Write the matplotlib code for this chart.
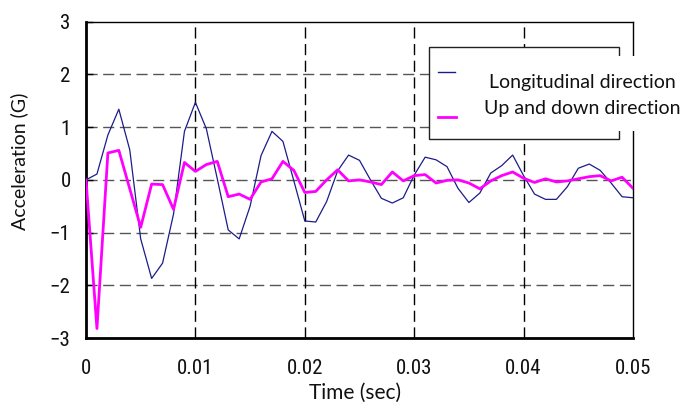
import os
import numpy as np
import matplotlib
matplotlib.use("Agg")
import matplotlib.pyplot as plt
from matplotlib import font_manager
from matplotlib.font_manager import FontProperties
from matplotlib.patches import Rectangle
from matplotlib.lines import Line2D

# Sampled acceleration records, 1 ms step
time_sec = [i * 0.001 for i in range(51)]
longitudinal = [
    0.00, 0.11, 0.85, 1.34, 0.57, -1.12, -1.87, -1.58, -0.65, 0.92,
    1.47, 0.97, 0.02, -0.95, -1.12, -0.50, 0.46, 0.92, 0.73, -0.02,
    -0.78, -0.80, -0.41, 0.17, 0.47, 0.37, 0.00, -0.35, -0.44, -0.34,
    0.09, 0.43, 0.38, 0.25, -0.16, -0.43, -0.25, 0.13, 0.27, 0.47,
    0.08, -0.27, -0.37, -0.37, -0.13, 0.22, 0.30, 0.18, -0.06, -0.32,
    -0.34,
]
up_down = [
    0.00, -2.82, 0.51, 0.56, -0.17, -0.90, -0.08, -0.09, -0.56, 0.33,
    0.16, 0.29, 0.35, -0.32, -0.27, -0.37, -0.04, 0.02, 0.35, 0.18,
    -0.24, -0.22, 0.00, 0.19, -0.02, 0.00, -0.04, -0.09, 0.15, -0.02,
    0.08, 0.10, -0.06, -0.01, 0.00, -0.06, -0.17, -0.02, 0.08, 0.15,
    0.03, -0.05, 0.02, -0.04, -0.02, 0.02, 0.06, 0.08, -0.02, 0.05,
    -0.16,
]
x_ticks = [0, 0.01, 0.02, 0.03, 0.04, 0.05]
x_tick_labels = ["0", "0.01", "0.02", "0.03", "0.04", "0.05"]
y_ticks = [-3, -2, -1, 0, 1, 2, 3]
series_names = ["Longitudinal direction", "Up and down direction"]
x_title = "Time (sec)"
y_title = "Acceleration (G)"


def narrow_font():
    """Return properties of a condensed sans face if one is installed."""
    prefs = ["liberationsansnarrow-regular", "robotocondensed-regular",
             "notosans-condensed.", "notosans-condensed-regular",
             "opensans-condensed", "dejavusanscondensed."]
    files = {os.path.basename(f.fname).lower(): f.fname
             for f in font_manager.fontManager.ttflist}
    for p in prefs:
        for base, path in files.items():
            if base.startswith(p) and "bold" not in base and "italic" not in base:
                return FontProperties(fname=path)
    for f in font_manager.fontManager.ttflist:
        if (f.stretch in ("condensed", "semi-condensed")
                and f.style == "normal" and f.weight in (400, "normal")):
            return FontProperties(fname=f.fname)
    return FontProperties(family="Liberation Sans")


def pick_font(names):
    for name in names:
        try:
            font_manager.findfont(name, fallback_to_default=False)
            return name
        except Exception:
            continue
    return "DejaVu Sans"


tick_fp = narrow_font()
tick_fp.set_size(15)
label_font = pick_font(["Lato", "Open Sans"])

W, H = 682, 403
fig = plt.figure(figsize=(W / 100, H / 100), dpi=100)


def fx(px):
    return px / W


def fy(py):
    return 1 - py / H


ax = fig.add_axes([fx(86), fy(338), fx(633) - fx(86), fy(21.7) - fy(338)])

navy = "#1c1c8a"
magenta = "#ff00ff"

ax.plot(time_sec, longitudinal, color=navy, lw=0.9, zorder=3)
ax.plot(time_sec, up_down, color=magenta, lw=2.0, zorder=4)

ax.set_xlim(0, 0.05)
ax.set_ylim(-3, 3)
ax.set_xticks(x_ticks)
ax.set_xticklabels(x_tick_labels)
ax.set_yticks(y_ticks)

for lab in ax.get_xticklabels() + ax.get_yticklabels():
    lab.set_fontproperties(tick_fp)
    lab.set_color("#111111")

ax.tick_params(axis="x", direction="in", length=0, pad=15)
ax.tick_params(axis="y", direction="in", length=5, width=1, pad=11)

# dashed grid: horizontal grey, vertical black
for yv in y_ticks[1:-1]:
    ax.axhline(yv, color="#555555", lw=1.0, ls=(0, (8, 4)), zorder=1)
for xv in x_ticks[1:-1]:
    ax.axvline(xv, color="#000000", lw=1.0, ls=(0, (8, 4)), zorder=1)

ax.spines["left"].set_linewidth(2.0)
ax.spines["bottom"].set_linewidth(2.0)
ax.spines["top"].set_linewidth(1.0)
ax.spines["right"].set_linewidth(1.0)

fig.text(fx(19), fy(161.5), y_title, rotation=90, ha="center", va="center",
         fontsize=14, family=label_font, color="#111111")
fig.text(fx(355), fy(399), x_title, ha="center", va="baseline",
         fontsize=15, family=label_font, color="#111111")

# legend frame with handles and a separate white text block
fig.add_artist(Rectangle((fx(429), fy(139.3)), fx(619.3) - fx(429),
                         fy(46.7) - fy(139.3), transform=fig.transFigure,
                         facecolor="white", edgecolor="#222222", lw=1.0,
                         zorder=10))
fig.add_artist(Line2D([fx(438), fx(455)], [fy(71.5), fy(71.5)],
                      color=navy, lw=1.0, transform=fig.transFigure, zorder=11))
fig.add_artist(Line2D([fx(438), fx(456)], [fy(117), fy(117)],
                      color=magenta, lw=2.0, transform=fig.transFigure, zorder=11))
fig.add_artist(Rectangle((fx(461), fy(131)), fx(682) - fx(461),
                         fy(56) - fy(131), transform=fig.transFigure,
                         facecolor="white", edgecolor="none", zorder=12))
fig.text(fx(582), fy(88), series_names[0], ha="center", va="baseline",
         fontsize=14, family=label_font, color="#111111", zorder=13)
fig.text(fx(582), fy(114.3), series_names[1], ha="center", va="baseline",
         fontsize=14, family=label_font, color="#111111", zorder=13)

fig.savefig("out.png", dpi=100)
